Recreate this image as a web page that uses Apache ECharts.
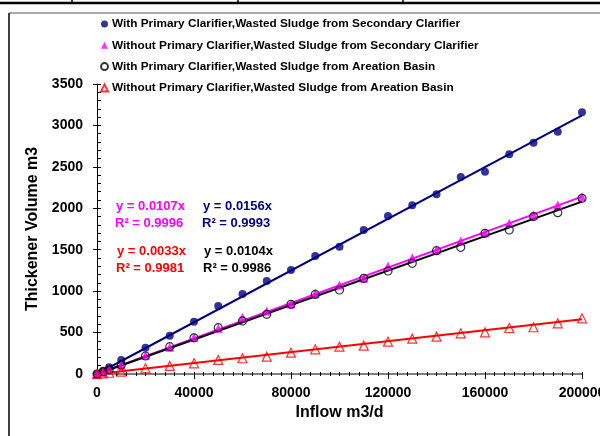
<!DOCTYPE html>
<html>
<head>
<meta charset="utf-8">
<script src="https://cdn.jsdelivr.net/npm/echarts@6/dist/echarts.min.js"></script>
<style>
  html, body { margin: 0; padding: 0; background: #fff; }
  #chart { width: 600px; height: 436px; }
</style>
</head>
<body>
<div id="chart"></div>
<script>
// Inflow (m3/d) at which thickener volume was computed
const inflow = [0, 2500, 5000, 10000, 20000, 30000, 40000, 50000, 60000, 70000, 80000,
  90000, 100000, 110000, 120000, 130000, 140000, 150000, 160000, 170000, 180000, 190000, 200000];

// Thickener volume (m3) for each scenario
const withPcSecondary = [0, 40, 81, 169, 318, 463, 631, 821, 966, 1122, 1255,
  1424, 1537, 1738, 1907, 2036, 2169, 2378, 2442, 2651, 2792, 2924, 3158];
const withoutPcSecondary = [0, 25, 55, 107, 225, 322, 443, 551, 684, 760, 845,
  974, 1074, 1155, 1303, 1404, 1497, 1605, 1706, 1818, 1919, 2040, 2140];
const withPcAeration = [0, 25, 50, 110, 217, 330, 437, 559, 640, 720, 841,
  960, 1014, 1155, 1243, 1336, 1488, 1529, 1698, 1738, 1900, 1947, 2120];
const withoutPcAeration = [0, 8, 15, 28, 69, 97, 129, 170, 190, 209, 257,
  298, 330, 342, 390, 427, 451, 491, 503, 555, 564, 612, 672];

const seriesNames = [
  'With Primary Clarifier,Wasted Sludge from Secondary Clarifier',
  'Without Primary Clarifier,Wasted Sludge from Secondary Clarifier',
  'With Primary Clarifier,Wasted Sludge from Areation Basin',
  'Without Primary Clarifier,Wasted Sludge from Areation Basin'
];

// Linear fits through the origin and their coefficients of determination
const slopes = ['0.0156', '0.0107', '0.0104', '0.0033'];
const rSquared = ['0.9993', '0.9996', '0.9986', '0.9981'];

const xTicks = { min: 0, max: 200000, interval: 40000 };
const yTicks = { min: 0, max: 3500, interval: 500 };

const colors = ['#000080', '#FF00FF', '#000000', '#FF0000'];
const FONT = 'Arial, "Liberation Sans", Helvetica, sans-serif';

const volumes = [withPcSecondary, withoutPcSecondary, withPcAeration, withoutPcAeration];
const symbols = ['circle', 'triangle', 'circle', 'triangle'];
const filled = [true, true, false, false];
const sizes = [8, 9, 8, 9];

const scatterSeries = volumes.map((vals, i) => ({
  name: seriesNames[i],
  type: 'scatter',
  symbol: symbols[i],
  symbolSize: sizes[i],
  z: 3,
  itemStyle: filled[i]
    ? { color: colors[i] }
    : { color: 'rgba(255,255,255,0)', borderColor: colors[i], borderWidth: 1.2 },
  data: inflow.map((x, k) => [x, vals[k]])
}));

const trendSeries = slopes.map((s, i) => ({
  type: 'line',
  symbol: 'none',
  silent: true,
  z: 2,
  lineStyle: { color: colors[i], width: 2 },
  data: [[xTicks.min, 0], [xTicks.max, Number(s) * xTicks.max]]
}));

// Equation labels: [series index, left, top]
const eqPlacement = [[1, 116, 206], [0, 203, 206], [3, 117, 251], [2, 204, 251]];
const eqGraphics = [];
eqPlacement.forEach(([i, x, y]) => {
  eqGraphics.push({
    type: 'text', x: x, y: y, z: 10,
    style: { text: 'y = ' + slopes[i] + 'x', fill: colors[i], font: 'bold 13px ' + FONT, verticalAlign: 'middle' }
  });
  eqGraphics.push({
    type: 'text', x: x - 1, y: y + 17, z: 10,
    style: { text: 'R\u00B2 = ' + rSquared[i], fill: colors[i], font: 'bold 13px ' + FONT, verticalAlign: 'middle' }
  });
});

// Page frame lines
const frameGraphics = [
  { type: 'line', shape: { x1: 0, y1: 3, x2: 600, y2: 3 }, style: { stroke: '#000', lineWidth: 2.5 } },
  { type: 'line', shape: { x1: 72, y1: 0, x2: 72, y2: 3 }, style: { stroke: '#000', lineWidth: 1.5 } },
  { type: 'line', shape: { x1: 238, y1: 0, x2: 238, y2: 3 }, style: { stroke: '#000', lineWidth: 1.5 } },
  { type: 'line', shape: { x1: 403, y1: 0, x2: 403, y2: 3 }, style: { stroke: '#000', lineWidth: 1.5 } },
  { type: 'line', shape: { x1: 9, y1: 13, x2: 600, y2: 13 }, style: { stroke: '#555', lineWidth: 1.2 } },
  { type: 'line', shape: { x1: 9, y1: 13, x2: 9, y2: 436 }, style: { stroke: '#000', lineWidth: 1.5 } }
];

const plainNumber = v => String(v);
const labelStyle = { fontFamily: FONT, fontWeight: 'bold', fontSize: 14, color: '#000', formatter: plainNumber };

const chart = echarts.init(document.getElementById('chart'), null, { renderer: 'canvas' });
chart.setOption({
  animation: false,
  backgroundColor: '#fff',
  grid: { left: 97, right: 18, top: 84, bottom: 62, containLabel: false, outerBoundsMode: 'none' },
  legend: {
    data: seriesNames,
    orient: 'vertical',
    left: 95,
    top: 12,
    itemWidth: 7,
    itemHeight: 7,
    itemGap: 7.3,
    textStyle: { fontFamily: FONT, fontWeight: 'bold', fontSize: 11.8, color: '#000', lineHeight: 14, padding: [0, 0, 0, -1] },
    selectedMode: false
  },
  xAxis: [{
    type: 'value', position: 'bottom',
    min: xTicks.min, max: xTicks.max, interval: xTicks.interval,
    name: 'Inflow m3/d', nameLocation: 'middle', nameGap: 28,
    nameTextStyle: { fontFamily: FONT, fontWeight: 'bold', fontSize: 16, color: '#000' },
    axisLine: { show: true, onZero: false, lineStyle: { color: '#808080', width: 2 } },
    axisTick: { show: true, inside: false, length: 5, lineStyle: { color: '#000', width: 1 } },
    minorTick: { show: true, splitNumber: 10, length: 2, lineStyle: { color: '#000', width: 1 } },
    axisLabel: Object.assign({ margin: 12 }, labelStyle),
    splitLine: { show: false }
  }, {
    type: 'value', position: 'bottom',
    min: xTicks.min, max: xTicks.max, interval: xTicks.interval,
    axisLine: { show: false, onZero: false },
    axisTick: { show: true, inside: true, length: 2, lineStyle: { color: '#000', width: 1 } },
    minorTick: { show: true, splitNumber: 10, length: 2, lineStyle: { color: '#000', width: 1 } },
    axisLabel: { show: false },
    splitLine: { show: false }
  }],
  yAxis: [{
    type: 'value', position: 'left',
    min: yTicks.min, max: yTicks.max, interval: yTicks.interval,
    name: 'Thickener Volume m3', nameLocation: 'middle', nameGap: 56, nameRotate: 90,
    nameTextStyle: { fontFamily: FONT, fontWeight: 'bold', fontSize: 16, color: '#000' },
    axisLine: { show: true, onZero: false, lineStyle: { color: '#000', width: 1 } },
    axisTick: { show: true, inside: false, length: 4, lineStyle: { color: '#000', width: 1 } },
    axisLabel: Object.assign({ margin: 14 }, labelStyle),
    splitLine: { show: false }
  }, {
    type: 'value', position: 'left',
    min: yTicks.min, max: yTicks.max, interval: yTicks.interval,
    axisLine: { show: false, onZero: false },
    axisTick: { show: true, inside: true, length: 4, lineStyle: { color: '#000', width: 1 } },
    minorTick: { show: true, splitNumber: 5, length: 4, lineStyle: { color: '#000', width: 1 } },
    axisLabel: { show: false },
    splitLine: { show: false }
  }],
  graphic: frameGraphics.concat(eqGraphics),
  series: trendSeries.concat(scatterSeries)
});
</script>
</body>
</html>
